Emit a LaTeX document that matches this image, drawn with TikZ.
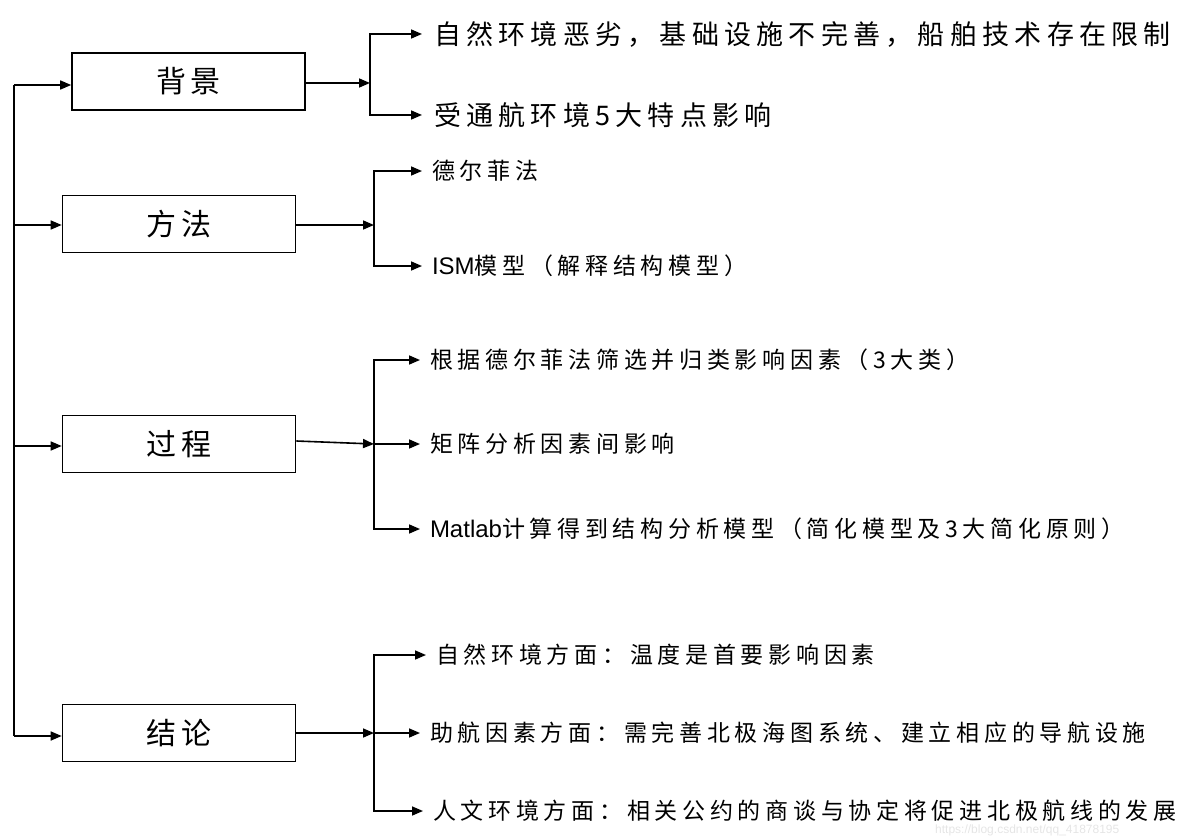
\documentclass[tikz,border=0pt]{standalone}
\usepackage{fontspec}
\setmainfont{Liberation Sans}
\newfontfamily\cjkA[LetterSpace=19.5]{Noto Sans CJK SC}
\newfontfamily\cjkC[LetterSpace=20.5]{Noto Sans CJK SC}
\newfontfamily\cjkB[LetterSpace=14]{Noto Sans CJK SC}
\newfontfamily\latin{Liberation Sans}
\usetikzlibrary{arrows.meta}
\tikzset{
  conn/.style={line width=1.6pt, draw=black},
  arr/.style={conn, -{Triangle[length=11pt,width=9pt]}},
  catbox/.style={draw, line width=1.6pt, minimum width=233pt, minimum height=57pt, inner sep=0pt, font=\fontsize{30}{33}\selectfont\cjkB},
  bigitem/.style={anchor=west, inner sep=0pt, outer xsep=12pt, font=\fontsize{27}{30}\selectfont\cjkA},
  item/.style={anchor=west, inner sep=0pt, outer xsep=10pt, font=\fontsize{23}{26}\selectfont\cjkC},
}
\begin{document}
\begin{tikzpicture}[x=1pt,y=-1pt]
\useasboundingbox (0,0) rectangle (1188,840);
% boxes
\node[catbox] (b1) at (188.5,81.5) {背景};
\node[catbox] (b2) at (179,224) {方法};
\node[catbox] (b3) at (179,444) {过程};
\node[catbox] (b4) at (179,733) {结论};
% left spine
\coordinate (L1) at (14,85);
\coordinate (L4) at (14,736);
\draw[conn] (L1) -- (L4);
\draw[arr] (L1) -- (L1 -| b1.west);
\draw[arr] (14,225) coordinate (L2) -- (L2 -| b2.west);
\draw[arr] (14,446) coordinate (L3) -- (L3 -| b3.west);
\draw[arr] (L4) -- (L4 -| b4.west);
% item texts
\node[bigitem] (t11) at (422,34) {自然环境恶劣，基础设施不完善，船舶技术存在限制};
\node[bigitem] (t12) at (422,115) {受通航环境5大特点影响};
\node[item] (t21) at (422,171) {德尔菲法};
\node[item] (t22) at (422,266) {{\latin\fontsize{24}{26}\selectfont ISM}模型（解释结构模型）};
\node[item] (t31) at (420,360) {根据德尔菲法筛选并归类影响因素（3大类）};
\node[item] (t32) at (420,444) {矩阵分析因素间影响};
\node[item] (t33) at (420,529) {{\latin\fontsize{24}{26}\selectfont Matlab}计算得到结构分析模型（简化模型及3大简化原则）};
\node[item] (t41) at (426,655) {自然环境方面：温度是首要影响因素};
\node[item] (t42) at (420,733) {助航因素方面：需完善北极海图系统、建立相应的导航设施};
\node[item] (t43) at (423,811) {人文环境方面：相关公约的商谈与协定将促进北极航线的发展};
% branch 1
\coordinate (s1) at (370,83);
\draw[arr] (b1.east |- s1) -- (s1);
\draw[arr] (s1) |- (t11.west);
\draw[arr] (s1) |- (t12.west);
% branch 2
\coordinate (s2) at (374,225);
\draw[arr] (b2.east |- s2) -- (s2);
\draw[arr] (s2) |- (t21.west);
\draw[arr] (s2) |- (t22.west);
% branch 3
\coordinate (s3) at (374,444);
\draw[arr] ([yshift=3pt]b3.east) -- (s3);
\draw[arr] (s3) |- (t31.west);
\draw[arr] (s3) -- (t32.west);
\draw[arr] (s3) |- (t33.west);
% branch 4
\coordinate (s4) at (374,733);
\draw[arr] (b4.east |- s4) -- (s4);
\draw[arr] (s4) |- (t41.west);
\draw[arr] (s4) -- (t42.west);
\draw[arr] (s4) |- (t43.west);
% watermark
\node[anchor=west, inner sep=0pt, text=black!10, font=\fontsize{12}{13}\selectfont] (wm) at (935,830) {https://blog.csdn.net/qq\_41878195};
\end{tikzpicture}
\end{document}
